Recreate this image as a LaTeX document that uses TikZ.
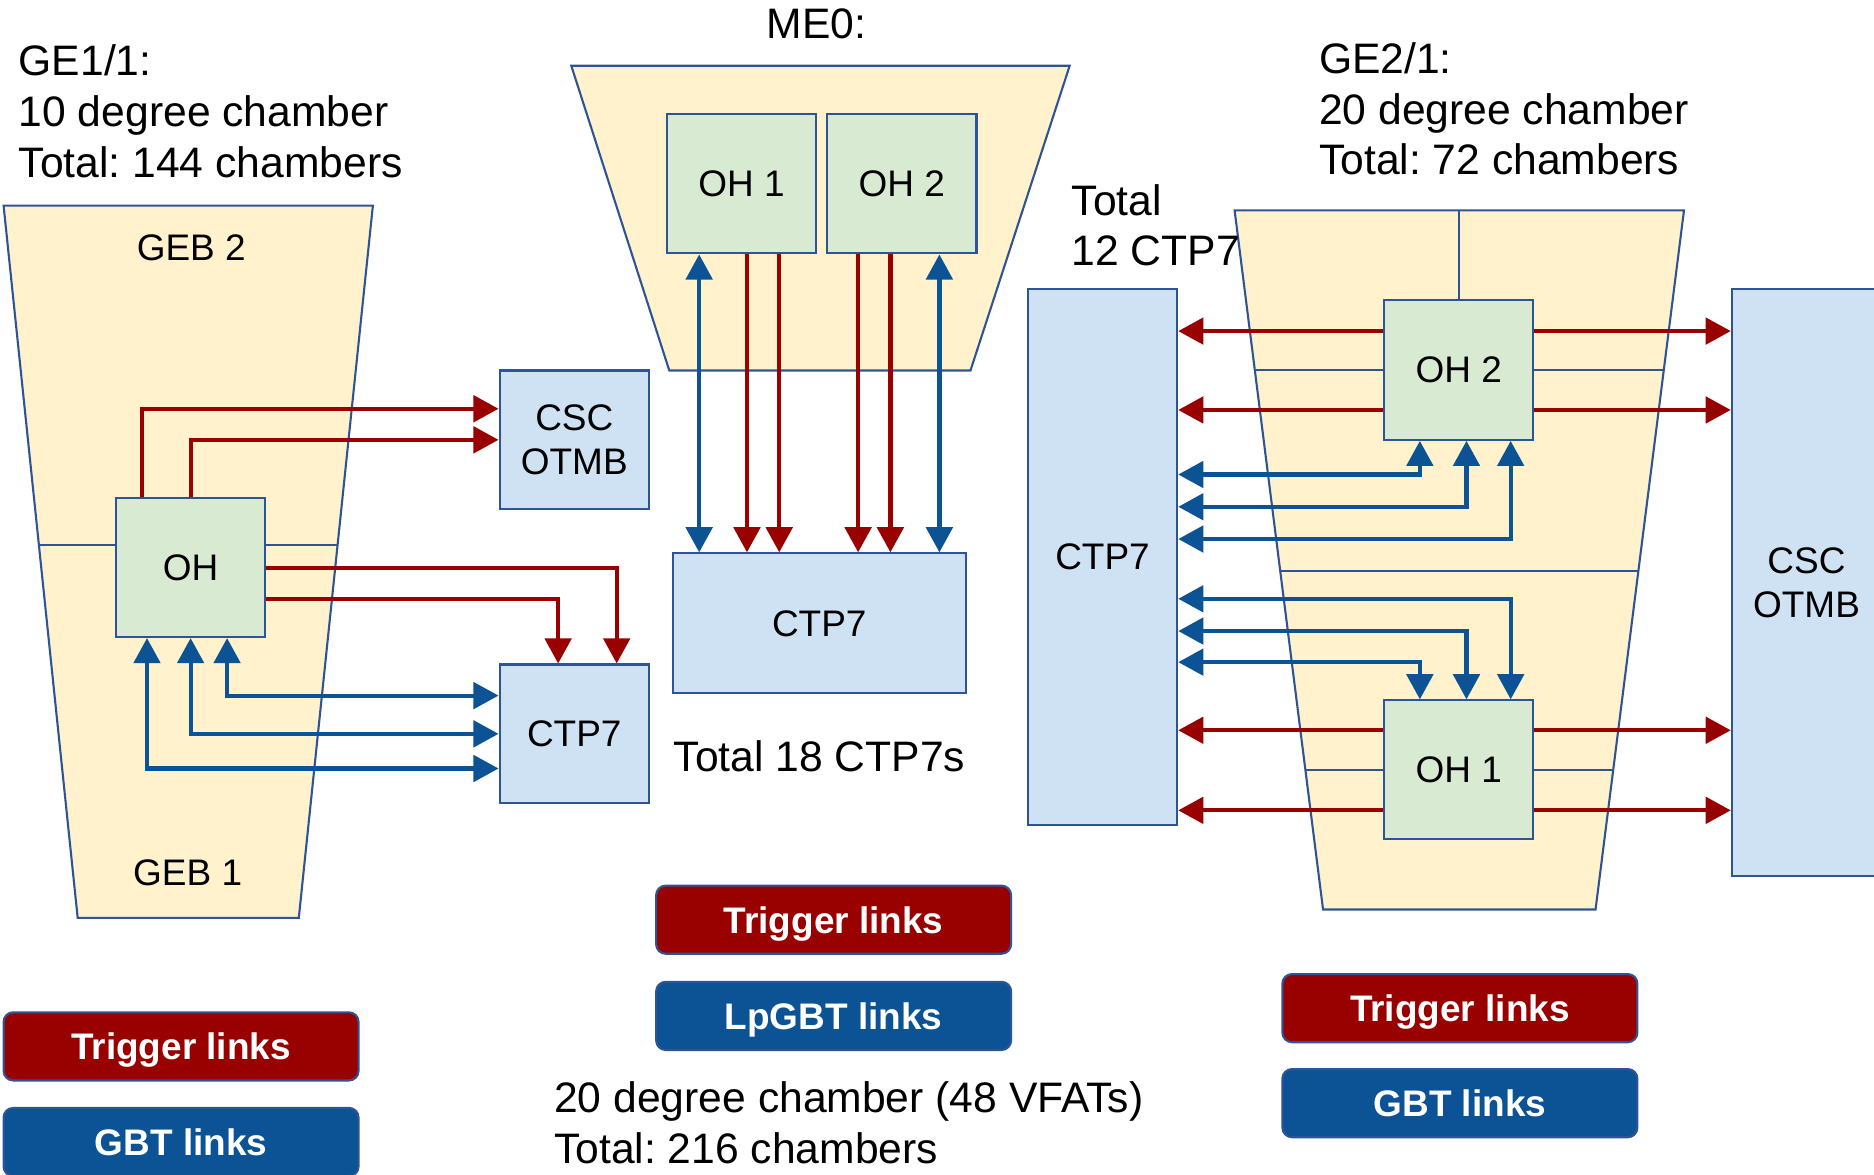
\documentclass[tikz,border=0pt]{standalone}
\usepackage{fontspec}
\setmainfont{Liberation Sans}
\usetikzlibrary{arrows.meta}
\definecolor{chamberfill}{HTML}{FFF2CC}
\definecolor{ohfill}{HTML}{D9EAD3}
\definecolor{ctpfill}{HTML}{CFE2F3}
\definecolor{edgeblue}{HTML}{2F5496}
\definecolor{trigred}{HTML}{990000}
\definecolor{gbtblue}{HTML}{0B5394}
\frenchspacing
\begin{document}
\begin{tikzpicture}[x=1cm,y=-1cm,font=\fontsize{10.15}{12.1}\selectfont,>={Triangle[length=0.21cm,width=0.22cm]},
  box/.style={draw=edgeblue,line width=0.5pt,fill=ctpfill,minimum width=1.25cm,minimum height=1.16cm,align=center,font=\fontsize{8.8}{10.5}\selectfont},
  ohbox/.style={box,fill=ohfill},
  chamber/.style={draw=edgeblue,line width=0.5pt,fill=chamberfill},
  divider/.style={draw=edgeblue,line width=0.5pt},
  trig/.style={draw=trigred,line width=1pt,->},
  gbt/.style={draw=gbtblue,line width=1pt,<->},
  legend/.style={draw=edgeblue,line width=0.5pt,rounded corners=0.08cm,minimum width=2.97cm,minimum height=0.57cm,text depth=0pt,text=white,font=\fontsize{8.8}{10}\selectfont\bfseries},
  note/.style={anchor=west,align=left,inner sep=0pt}]
\useasboundingbox (0,0) rectangle (15.68,9.83);
\clip (0,0) rectangle (15.68,9.83);
% chambers
\draw[chamber] (0.03,1.72) -- (3.12,1.72) -- (2.50,7.68) -- (0.65,7.68) -- cycle;
\draw[divider] (0.325,4.56) -- (2.825,4.56);
\draw[chamber] (4.78,0.55) -- (8.95,0.55) -- (8.12,3.10) -- (5.60,3.10) -- cycle;
\draw[chamber] (10.33,1.76) -- (14.09,1.76) -- (13.35,7.61) -- (11.07,7.61) -- cycle;
\draw[divider] (12.205,1.76) -- (12.205,2.51);
\draw[divider] (10.50,3.095) -- (13.92,3.095);
\draw[divider] (10.712,4.78) -- (13.708,4.78);
\draw[divider] (10.92,6.44) -- (13.50,6.44);
% GE1/1
\node[ohbox] (oh) at (1.595,4.75) {OH};
\node[box] (csc1) at (4.805,3.68) {CSC\\OTMB};
\node[box] (ctpa) at (4.805,6.14) {CTP7};
\draw[trig] ([xshift=-0.405cm]oh.north) |- ([yshift=0.26cm]csc1.west);
\draw[trig] (oh.north) |- (csc1.west);
\draw[trig] (oh.east) -| ([xshift=0.355cm]ctpa.north);
\draw[trig] ([yshift=-0.26cm]oh.east) -| ([xshift=-0.135cm]ctpa.north);
\draw[gbt] ([xshift=0.305cm]oh.south) |- ([yshift=0.32cm]ctpa.west);
\draw[gbt] (oh.south) |- (ctpa.west);
\draw[gbt] ([xshift=-0.365cm]oh.south) |- ([yshift=-0.29cm]ctpa.west);
% ME0
\node[ohbox,minimum height=1.17cm] (oh1m) at (6.205,1.535) {OH 1};
\node[ohbox,minimum height=1.17cm] (oh2m) at (7.545,1.535) {OH 2};
\node[box,minimum width=2.45cm,minimum height=1.17cm] (ctpm) at (6.855,5.215) {CTP7};
\draw[gbt] ([xshift=-0.355cm]oh1m.south) -- ([xshift=-0.355cm]oh1m.south |- ctpm.north);
\draw[trig] ([xshift=0.045cm]oh1m.south) -- ([xshift=0.045cm]oh1m.south |- ctpm.north);
\draw[trig] ([xshift=0.315cm]oh1m.south) -- ([xshift=0.315cm]oh1m.south |- ctpm.north);
\draw[trig] ([xshift=-0.365cm]oh2m.south) -- ([xshift=-0.365cm]oh2m.south |- ctpm.north);
\draw[trig] ([xshift=-0.095cm]oh2m.south) -- ([xshift=-0.095cm]oh2m.south |- ctpm.north);
\draw[gbt] ([xshift=0.315cm]oh2m.south) -- ([xshift=0.315cm]oh2m.south |- ctpm.north);
% GE2/1
\node[ohbox,minimum height=1.17cm] (oh2r) at (12.205,3.095) {OH 2};
\node[ohbox] (oh1r) at (12.205,6.44) {OH 1};
\node[box,minimum height=4.48cm] (ctpr) at (9.225,4.66) {CTP7};
\node[box,minimum height=4.91cm] (cscr) at (15.115,4.875) {CSC\\OTMB};
\draw[trig] ([yshift=0.325cm]oh2r.west) -- ([yshift=0.325cm]oh2r.west -| ctpr.east);
\draw[trig] ([yshift=-0.335cm]oh2r.west) -- ([yshift=-0.335cm]oh2r.west -| ctpr.east);
\draw[trig] ([yshift=0.325cm]oh2r.east) -- ([yshift=0.325cm]oh2r.east -| cscr.west);
\draw[trig] ([yshift=-0.335cm]oh2r.east) -- ([yshift=-0.335cm]oh2r.east -| cscr.west);
\draw[trig] ([yshift=0.33cm]oh1r.west) -- ([yshift=0.33cm]oh1r.west -| ctpr.east);
\draw[trig] ([yshift=-0.34cm]oh1r.west) -- ([yshift=-0.34cm]oh1r.west -| ctpr.east);
\draw[trig] ([yshift=0.33cm]oh1r.east) -- ([yshift=0.33cm]oh1r.east -| cscr.west);
\draw[trig] ([yshift=-0.34cm]oh1r.east) -- ([yshift=-0.34cm]oh1r.east -| cscr.west);
\draw[gbt] ([xshift=-0.325cm]oh2r.south) |- ([yshift=0.69cm]ctpr.east);
\draw[gbt] ([xshift=0.065cm]oh2r.south) |- ([yshift=0.42cm]ctpr.east);
\draw[gbt] ([xshift=0.435cm]oh2r.south) |- ([yshift=0.15cm]ctpr.east);
\draw[gbt] ([xshift=0.435cm]oh1r.north) |- ([yshift=-0.35cm]ctpr.east);
\draw[gbt] ([xshift=0.065cm]oh1r.north) |- ([yshift=-0.62cm]ctpr.east);
\draw[gbt] ([xshift=-0.325cm]oh1r.north) |- ([yshift=-0.88cm]ctpr.east);
% texts
\node[note] (ge11) at (0.15,0.93) {GE1/1:\\10 degree chamber\\Total: 144 chambers};
\node[note] (ge21) at (11.03,0.91) {GE2/1:\\20 degree chamber\\Total: 72 chambers};
\node (me0) at (6.83,0.20) {ME0:};
\node[note] (tot12) at (8.96,1.885) {Total\\12 CTP7};
\node[note] (tot18) at (5.63,6.33) {Total 18 CTP7s};
\node[note] (me0tot) at (4.63,9.395) {20 degree chamber (48 VFATs)\\Total: 216 chambers};
\node[font=\fontsize{8.8}{10.5}\selectfont] (geb2) at (1.60,2.07) {GEB 2};
\node[font=\fontsize{8.8}{10.5}\selectfont] (geb1) at (1.57,7.30) {GEB 1};
% legends
\node[legend,fill=trigred] (trig1) at (1.515,8.755) {Trigger links};
\node[legend,fill=gbtblue] (gbt1) at (1.515,9.555) {GBT links};
\node[legend,fill=trigred] (trig2) at (6.975,7.695) {Trigger links};
\node[legend,fill=gbtblue] (gbt2) at (6.975,8.50) {LpGBT links};
\node[legend,fill=trigred] (trig3) at (12.215,8.435) {Trigger links};
\node[legend,fill=gbtblue] (gbt3) at (12.215,9.23) {GBT links};
\end{tikzpicture}
\end{document}
